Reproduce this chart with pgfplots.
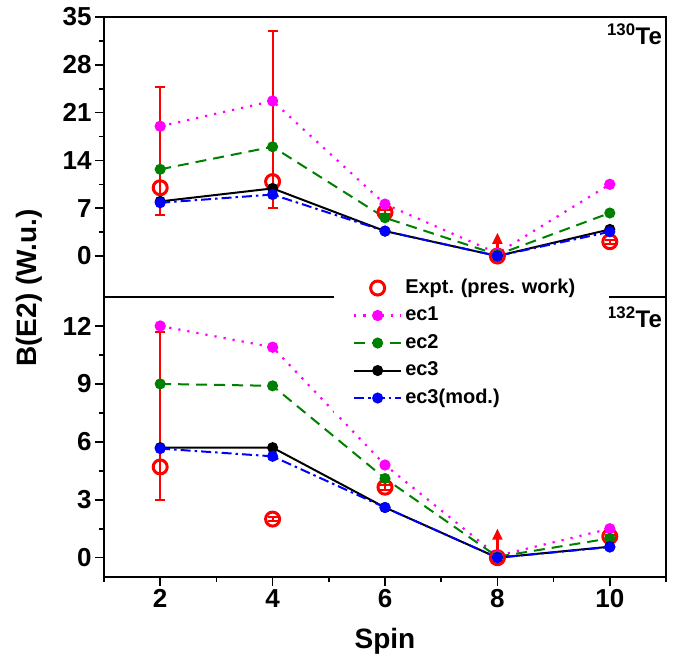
\documentclass[border=0pt]{standalone}
\usepackage{fontspec}
\setmainfont{Liberation Sans}
\usepackage{pgfplots}
\pgfplotsset{compat=1.18}
\usetikzlibrary{arrows.meta}
\definecolor{ecgreen}{RGB}{0,128,0}
\definecolor{ecmag}{RGB}{255,0,255}
\definecolor{ecblue}{RGB}{0,0,255}
\newcommand{\fs}[1]{\fontsize{#1}{#1}\selectfont\bfseries\frenchspacing}

\pgfplotsset{
  common/.style={
    scale only axis, width=562pt, height=280pt,
    xmin=1, xmax=11,
    axis line style={line width=2pt},
    every tick/.style={line width=1.6pt, black},
    major tick length=9pt, minor tick length=5pt,
    tick align=outside,
    ytick pos=left,
    /pgf/number format/assume math mode=true,
    ticklabel style={font=\fs{26}},
    clip=false,
  },
  expt/.style={red, line width=3pt, mark=o, mark size=7pt, only marks,
    error bars/y dir=both, error bars/y explicit,
    error bars/error bar style={line width=2pt, red},
    error bars/error mark options={line width=2pt, red, mark size=5pt, rotate=90}},
  exptm/.style={red, line width=3pt, mark=o, mark size=7pt, only marks},
  econe/.style={ecmag, line width=2.2pt, dash pattern=on 2.2pt off 7pt, mark=*, mark size=4.5pt, mark options={solid}},
  ectwo/.style={ecgreen, line width=2pt, dash pattern=on 11pt off 7pt, mark=*, mark size=4.5pt, mark options={solid}},
  ecthree/.style={black, line width=2pt, solid, mark=*, mark size=4.5pt},
  ecfour/.style={ecblue, line width=2pt, dash pattern=on 10pt off 4pt on 2.5pt off 4pt, mark=*, mark size=4.5pt, mark options={solid}},
  arr/.style={red, line width=2.2pt, -{Triangle[length=11pt,width=10pt]}, quiver={u=\thisrow{u}, v=\thisrow{v}}},
}

\pgfplotstableread{
x y ep em
2 10.0 14.8 4.0
4 10.9 22.0 3.9
6 6.4 0.3 0.3
10 2.1 0.3 0.3
}\exptA
\pgfplotstableread{
x y ep em
2 4.7 7.0 1.7
4 2.0 0.12 0.12
6 3.65 0.12 0.12
10 1.1 0.1 0.1
}\exptB

\begin{document}
\begin{tikzpicture}
\useasboundingbox (-104pt,-360pt) rectangle (581pt,297pt);
% top panel: 130Te
\begin{axis}[common, at={(0pt,0pt)}, anchor=south west,
  ymin=-6, ymax=35, ytick={0,7,...,35}, minor y tick num=1,
  xtick=\empty,
  ylabel={B(E2) (W.u.)},
  every axis y label/.style={at={(axis description cs:-0.133,0.032)}, rotate=90, anchor=center, font=\fs{28}},
]
\addplot[expt] table[x=x, y=y, y error plus=ep, y error minus=em] {\exptA};
\addplot[exptm] coordinates {(8,0)};
\addplot[arr] table[row sep=\\] {x y u v\\ 8 0.8 0 2.6\\};
\addplot[econe] coordinates {(2,19.0)(4,22.7)(6,7.6)(8,0.4)(10,10.5)};
\addplot[ectwo] coordinates {(2,12.7)(4,16.0)(6,5.6)(8,0.2)(10,6.3)};
\addplot[ecthree] coordinates {(2,8.0)(4,9.9)(6,3.65)(8,0)(10,3.9)};
\addplot[ecfour] coordinates {(2,7.8)(4,9.0)(6,3.65)(8,0)(10,3.55)};
\node[anchor=north east, inner sep=0pt, font=\fs{24}] at (rel axis cs:0.993,0.975) {\textsuperscript{130}Te};
\end{axis}
% bottom panel: 132Te
\begin{axis}[common, at={(0pt,0pt)}, anchor=north west,
  ymin=-1, ymax=13.5, ytick={0,3,...,12}, minor y tick num=1,
  xtick={2,4,...,10}, minor xtick={1,3,...,11}, xtick pos=bottom,
  xlabel={Spin},
  every axis x label/.style={at={(axis description cs:0.5,0)}, anchor=base, yshift=-71pt, font=\fs{28}},
  legend cell align=left,
  legend style={at={(axis description cs:0.409,1.089)}, anchor=north west,
    draw=none, fill=white, font=\fs{20}, inner xsep=19pt, inner ysep=2pt,
    row sep=0pt,
    nodes={inner sep=3pt, text height=16pt, text depth=5.5pt, text width=182pt, align=left}},
  legend image code/.code={\draw[mark repeat=2,mark phase=2,#1] plot coordinates {(0pt,0pt)(23.5pt,0pt)(47pt,0pt)};},
]
\addlegendimage{exptm}
\addlegendentry{Expt. (pres. work)}
\addlegendimage{econe}
\addlegendentry{ec1}
\addlegendimage{ectwo}
\addlegendentry{ec2}
\addlegendimage{ecthree}
\addlegendentry{ec3}
\addlegendimage{ecfour}
\addlegendentry{ec3(mod.)}
\addplot[forget plot, expt] table[x=x, y=y, y error plus=ep, y error minus=em] {\exptB};
\addplot[forget plot, exptm] coordinates {(8,0)};
\addplot[forget plot, arr] table[row sep=\\] {x y u v\\ 8 0.35 0 1.15\\};
\addplot[forget plot, econe] coordinates {(2,12.0)(4,10.9)(6,4.8)(8,0.1)(10,1.5)};
\addplot[forget plot, ectwo] coordinates {(2,9.0)(4,8.9)(6,4.1)(8,0.05)(10,1.0)};
\addplot[forget plot, ecthree] coordinates {(2,5.7)(4,5.7)(6,2.6)(8,0)(10,0.57)};
\addplot[forget plot, ecfour] coordinates {(2,5.65)(4,5.25)(6,2.6)(8,0)(10,0.55)};
\node[anchor=north east, inner sep=0pt, font=\fs{24}] at (rel axis cs:0.993,0.965) {\textsuperscript{132}Te};
\end{axis}
\end{tikzpicture}
\end{document}
